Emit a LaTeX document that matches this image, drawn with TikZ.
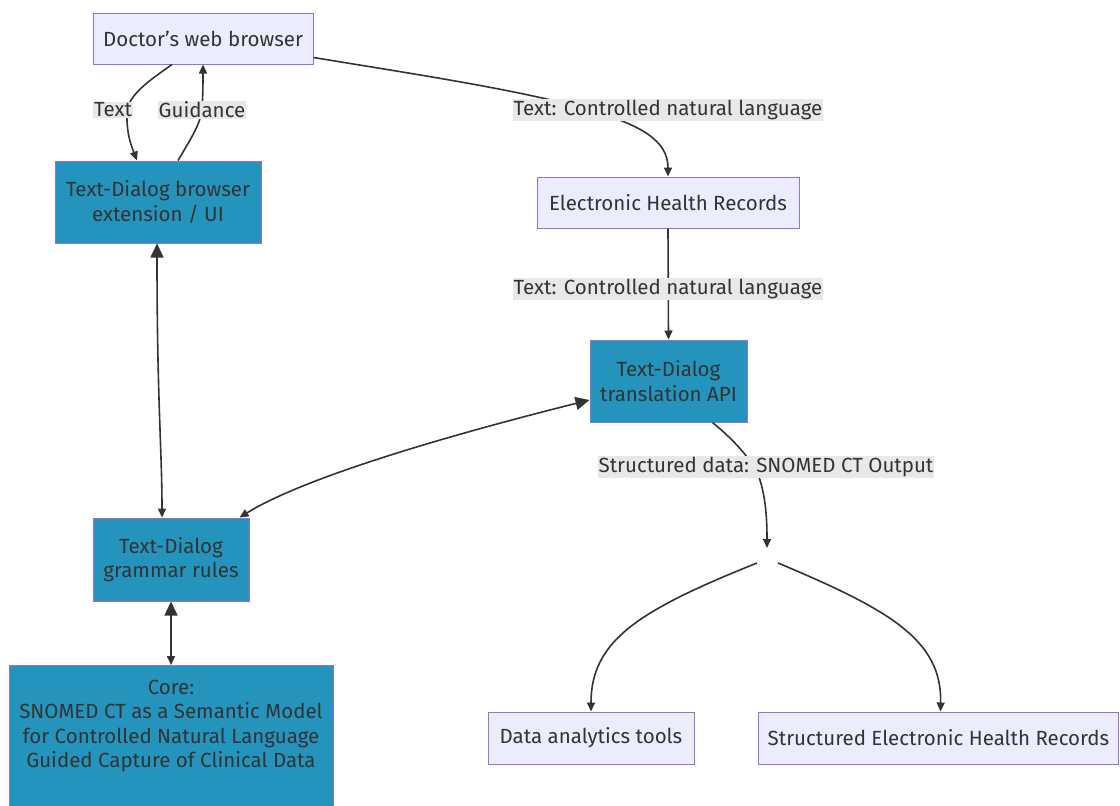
\documentclass[tikz,border=0pt]{standalone}
\usepackage{fontspec}
\setmainfont{Fira Sans}
\usetikzlibrary{arrows.meta}
\definecolor{lightfill}{HTML}{ECECFF}
\definecolor{nodeborder}{HTML}{9370DB}
\definecolor{darkfill}{HTML}{2494BD}
\definecolor{ink}{HTML}{333333}
\definecolor{lblbg}{HTML}{E8E8E8}
\tikzset{
  base/.style={draw=nodeborder, line width=1pt, text=ink, align=center, inner sep=0pt,
    font=\fontsize{20.5}{24.5}\selectfont},
  lightbox/.style={base, fill=lightfill},
  darkbox/.style={base, fill=darkfill},
  elabel/.style={fill=lblbg, text=ink, inner xsep=1pt, inner ysep=1pt,
    font=\fontsize{20.5}{22}\selectfont},
  conn/.style={draw=ink, line width=1.6pt},
  tipsmall/.style={-{Triangle[length=9pt,width=8pt]}},
  twoway/.style={{Triangle[length=14pt,width=13pt]}-{Triangle[length=9pt,width=8pt]}},
}
\begin{document}
\begin{tikzpicture}[x=1pt,y=-1pt]
\useasboundingbox (0,0) rectangle (1120,806);
\begin{scope}
\clip (0,0) rectangle (1120,806);
% nodes
\node[lightbox, minimum width=220, minimum height=51] (doc) at (203,38.5) {Doctor's web browser};
\node[darkbox, minimum width=206, minimum height=82] (ext) at (158,202) {Text-Dialog browser\\extension / UI};
\node[lightbox, minimum width=262, minimum height=51] (ehr) at (668,202.5) {Electronic Health Records};
\node[darkbox, minimum width=157, minimum height=82] (api) at (668.5,381) {Text-Dialog\\translation API};
\node[darkbox, minimum width=156, minimum height=83] (gram) at (171,559.5) {Text-Dialog\\grammar rules};
\node[darkbox, minimum width=324, minimum height=160, anchor=north] (core) at (171,665) {};
\node[base, draw=none, fill=none] (coretext) at (171,726) {Core:\\SNOMED CT as a Semantic Model\\for Controlled Natural Language\\Guided Capture of Clinical Data};
\node[lightbox, minimum width=206, minimum height=52] (dat) at (591,738) {Data analytics tools};
\node[lightbox, minimum width=360, minimum height=52, anchor=west] (sehr) at (758,738) {Structured Electronic Health Records};
\coordinate (junc) at (767,563);
\end{scope}

% edges
\draw[conn, tipsmall] ([xshift=-31pt]doc.south) .. controls (150,80) and (128,95) .. (127,112)
   .. controls (126,135) and (133,150) .. ([xshift=-21pt]ext.north);
\draw[conn, tipsmall] ([xshift=20pt]ext.north) .. controls (190,140) and (200,125) .. (202,110)
   .. controls (203,95) and (203,80) .. (doc.south);
\draw[conn, tipsmall] ([yshift=-19pt]doc.east) .. controls (420,75) and (520,90) .. (590,110)
   .. controls (640,125) and (668,140) .. (ehr.north);
\draw[conn, tipsmall] (ehr.south) -- (api.north);
\draw[conn, twoway] ([xshift=-1pt]ext.south) .. controls (157,400) and (162,450) .. ([xshift=-9pt]gram.north);
\draw[conn, twoway] ([yshift=-19pt]api.west) .. controls (430,440) and (300,480) .. ([xshift=-10pt]gram.north east);
\draw[conn, twoway] (gram.south) -- (core.north);
\draw[conn, tipsmall] ([xshift=44pt]api.south) .. controls (740,445) and (755,465) .. (760,480)
   .. controls (766,500) and (767,520) .. ([yshift=15pt]junc);
\draw[conn, tipsmall] ([xshift=-10pt]junc) .. controls (640,610) and (591,640) .. (dat.north);
\draw[conn, tipsmall] ([xshift=11pt]junc) .. controls (890,610) and (942,640) .. ([xshift=2pt]sehr.north);

% edge labels
\node[elabel] (lText) at (113,110) {Text};
\node[elabel] (lGuid) at (202,110) {Guidance};
\node[elabel] (lCnl1) at (668,110) {Text: Controlled natural language};
\node[elabel] (lCnl2) at (668,289) {Text: Controlled natural language};
\node[elabel] (lSd) at (766,467) {Structured data: SNOMED CT Output};
\end{tikzpicture}
\end{document}
